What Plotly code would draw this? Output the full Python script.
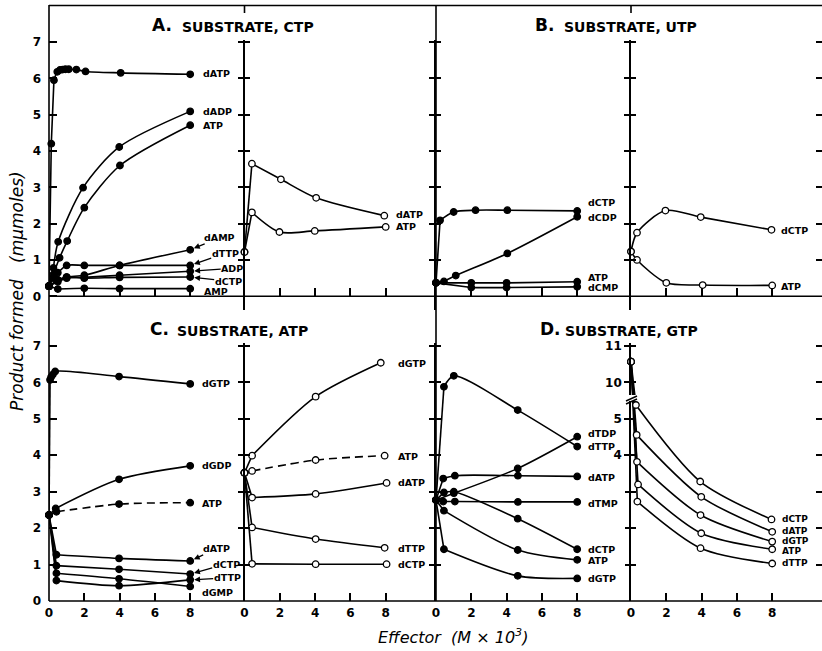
import plotly.graph_objects as go

# ---------------- data ----------------
# Panel A (substrate CTP) - left sub-plot, filled circles
a1_datp_x = [0, 0.13, 0.28, 0.47, 0.62, 0.77, 0.93, 1.12, 1.55, 2.07, 4.06, 8]
a1_datp_y = [0.28, 4.2, 5.95, 6.18, 6.23, 6.24, 6.25, 6.25, 6.24, 6.19, 6.15, 6.11]
a1_dadp_x = [0, 0.25, 0.52, 1.93, 3.98, 8]
a1_dadp_y = [0.28, 0.78, 1.5, 2.99, 4.11, 5.09]
a1_atp_x = [0, 0.25, 0.6, 1.03, 2.0, 4.02, 8]
a1_atp_y = [0.28, 0.6, 1.06, 1.52, 2.44, 3.6, 4.71]
a1_damp_x = [0, 0.5, 1, 2, 4, 8]
a1_damp_y = [0.28, 0.45, 0.53, 0.58, 0.85, 1.28]
a1_dttp_x = [0, 0.25, 0.5, 1, 2, 4, 8]
a1_dttp_y = [0.28, 0.5, 0.65, 0.85, 0.85, 0.85, 0.85]
a1_adp_x = [0, 0.5, 1, 2, 4, 8]
a1_adp_y = [0.28, 0.4, 0.5, 0.52, 0.58, 0.69]
a1_dctp_x = [0, 0.5, 1, 2, 4, 8]
a1_dctp_y = [0.28, 0.45, 0.53, 0.5, 0.52, 0.53]
a1_amp_x = [0, 0.5, 2, 4, 8]
a1_amp_y = [0.28, 0.2, 0.22, 0.21, 0.21]
# Panel A - right sub-plot, open circles
a2_datp_x = [0, 0.42, 2.06, 4.06, 7.92]
a2_datp_y = [1.22, 3.65, 3.22, 2.71, 2.22]
a2_atp_x = [0, 0.42, 1.98, 3.98, 8]
a2_atp_y = [1.22, 2.31, 1.77, 1.80, 1.91]

# Panel B (substrate UTP)
b1_dctp_x = [0, 0.23, 1.0, 2.24, 4.04, 8]
b1_dctp_y = [0.37, 2.09, 2.32, 2.37, 2.37, 2.35]
b1_dcdp_x = [0, 0.45, 1.12, 4.04, 8]
b1_dcdp_y = [0.37, 0.41, 0.57, 1.18, 2.19]
b1_atp_x = [0, 2, 4, 8]
b1_atp_y = [0.37, 0.37, 0.37, 0.40]
b1_dcmp_x = [0, 2, 4, 8]
b1_dcmp_y = [0.37, 0.24, 0.24, 0.26]
b2_dctp_x = [0, 0.34, 1.95, 3.95, 7.96]
b2_dctp_y = [1.23, 1.75, 2.36, 2.18, 1.83]
b2_atp_x = [0, 0.34, 2.0, 4.06, 8]
b2_atp_y = [1.23, 1.0, 0.37, 0.31, 0.30]

# Panel C (substrate ATP)
c1_dgtp_x = [0, 0.06, 0.12, 0.22, 0.35, 3.97, 8]
c1_dgtp_y = [2.36, 6.07, 6.15, 6.22, 6.3, 6.16, 5.96]
c1_dgdp_x = [0, 0.38, 3.97, 8]
c1_dgdp_y = [2.36, 2.54, 3.34, 3.71]
c1_atp_x = [0, 0.42, 3.97, 8]
c1_atp_y = [2.36, 2.45, 2.66, 2.70]
c1_datp_x = [0, 0.42, 3.97, 8]
c1_datp_y = [2.36, 1.27, 1.17, 1.10]
c1_dctp_x = [0, 0.42, 3.97, 8]
c1_dctp_y = [2.36, 0.97, 0.87, 0.74]
c1_dttp_x = [0, 0.42, 3.97, 8]
c1_dttp_y = [2.36, 0.56, 0.42, 0.58]
c1_dgmp_x = [0, 0.42, 3.97, 8]
c1_dgmp_y = [2.36, 0.76, 0.61, 0.40]
c2_dgtp_x = [0, 0.43, 4.03, 7.72]
c2_dgtp_y = [3.52, 3.99, 5.61, 6.54]
c2_atp_x = [0, 0.43, 4.03, 7.94]
c2_atp_y = [3.52, 3.57, 3.87, 3.99]
c2_datp_x = [0, 0.43, 4.03, 8.05]
c2_datp_y = [3.52, 2.84, 2.94, 3.24]
c2_dttp_x = [0, 0.43, 4.03, 7.94]
c2_dttp_y = [3.52, 2.02, 1.70, 1.46]
c2_dctp_x = [0, 0.43, 4.03, 8.05]
c2_dctp_y = [3.52, 1.02, 1.01, 1.01]

# Panel D (substrate GTP)
d1_dttp_x = [0, 0.45, 1.01, 4.63, 8]
d1_dttp_y = [2.77, 5.88, 6.18, 5.24, 4.24]
d1_dtdp_x = [0, 1.01, 4.63, 8]
d1_dtdp_y = [2.77, 2.96, 3.64, 4.51]
d1_datp_x = [0, 0.41, 1.07, 4.64, 8]
d1_datp_y = [2.77, 3.36, 3.44, 3.44, 3.42]
d1_dtmp_x = [0, 0.41, 1.07, 4.64, 8]
d1_dtmp_y = [2.77, 2.73, 2.73, 2.72, 2.72]
d1_dctp_x = [0, 0.45, 1.01, 4.63, 8]
d1_dctp_y = [2.77, 2.98, 3.0, 2.26, 1.42]
d1_atp_x = [0, 0.45, 4.63, 8]
d1_atp_y = [2.77, 2.48, 1.40, 1.13]
d1_dgtp_x = [0, 0.45, 4.63, 8]
d1_dgtp_y = [2.77, 1.42, 0.69, 0.62]
# right sub-plot of D uses a broken axis (values 10, 11 above the break)
d2_dctp_x = [0, 0.28, 3.92, 7.96]
d2_dctp_y = [10.57, 5.38, 3.28, 2.24]
d2_datp_x = [0, 0.32, 3.98, 8]
d2_datp_y = [10.57, 4.56, 2.86, 1.90]
d2_dgtp_x = [0, 0.34, 3.94, 8]
d2_dgtp_y = [10.57, 3.82, 2.36, 1.63]
d2_atp_x = [0, 0.40, 3.98, 8]
d2_atp_y = [10.57, 3.20, 1.86, 1.42]
d2_dttp_x = [0, 0.36, 3.94, 8]
d2_dttp_y = [10.57, 2.73, 1.45, 1.03]

# tick labels
y_tick_vals = [0, 1, 2, 3, 4, 5, 6, 7]
y_tick_text = ["0", "1", "2", "3", "4", "5", "6", "7"]
x_tick_vals = [0, 2, 4, 6, 8]
x_tick_text = ["0", "2", "4", "6", "8"]
minor_tick_vals = [1, 2, 3, 4, 5, 6, 7]
broken_tick_vals = [4, 5, 6, 7]
broken_tick_text = ["4", "5", "10", "11"]


def broken(vals):
    # values above the axis break (10, 11) are drawn 4 units lower
    return [v - 4 if v > 5.5 else v for v in vals]


# ---------------- geometry / style ----------------
W, H = 822, 651
def fx(p): return p / W
def fy(p): return 1 - p / H

FONT = "DejaVu Sans"
INK = "black"
LW = 1.6
TOP = dict(zero=296.3, ppu=36.33, top=40, bot=310)
BOT = dict(zero=601, ppu=36.43, top=343, bot=601)
COLS = [(49, 230), (244.5, 432), (436, 625), (631, 822)]
PPU_X = 17.65

def xa(i): return "x" if i == 1 else f"x{i}"
def ya(i): return "y" if i == 1 else f"y{i}"

# (subplot, x, y, hollow, dashed, number of straight leading segments)
series = [
    (1, a1_datp_x, a1_datp_y, False, False, 2),
    (1, a1_dadp_x, a1_dadp_y, False, False, 1),
    (1, a1_atp_x, a1_atp_y, False, False, 1),
    (1, a1_damp_x, a1_damp_y, False, False, 1),
    (1, a1_dttp_x, a1_dttp_y, False, False, 1),
    (1, a1_adp_x, a1_adp_y, False, False, 1),
    (1, a1_dctp_x, a1_dctp_y, False, False, 1),
    (1, a1_amp_x, a1_amp_y, False, False, 1),
    (2, a2_datp_x, a2_datp_y, True, False, 1),
    (2, a2_atp_x, a2_atp_y, True, False, 1),
    (3, b1_dctp_x, b1_dctp_y, False, False, 1),
    (3, b1_dcdp_x, b1_dcdp_y, False, False, 1),
    (3, b1_atp_x, b1_atp_y, False, False, 1),
    (3, b1_dcmp_x, b1_dcmp_y, False, False, 1),
    (4, b2_dctp_x, b2_dctp_y, True, False, 0),
    (4, b2_atp_x, b2_atp_y, True, False, 0),
    (5, c1_dgtp_x, c1_dgtp_y, False, False, 1),
    (5, c1_dgdp_x, c1_dgdp_y, False, False, 1),
    (5, c1_atp_x, c1_atp_y, False, True, 1),
    (5, c1_datp_x, c1_datp_y, False, False, 1),
    (5, c1_dctp_x, c1_dctp_y, False, False, 1),
    (5, c1_dttp_x, c1_dttp_y, False, False, 1),
    (5, c1_dgmp_x, c1_dgmp_y, False, False, 1),
    (6, c2_dgtp_x, c2_dgtp_y, True, False, 1),
    (6, c2_atp_x, c2_atp_y, True, True, 1),
    (6, c2_datp_x, c2_datp_y, True, False, 1),
    (6, c2_dttp_x, c2_dttp_y, True, False, 1),
    (6, c2_dctp_x, c2_dctp_y, True, False, 1),
    (7, d1_dttp_x, d1_dttp_y, False, False, 1),
    (7, d1_dtdp_x, d1_dtdp_y, False, False, 1),
    (7, d1_datp_x, d1_datp_y, False, False, 1),
    (7, d1_dtmp_x, d1_dtmp_y, False, False, 1),
    (7, d1_dctp_x, d1_dctp_y, False, False, 1),
    (7, d1_atp_x, d1_atp_y, False, False, 1),
    (7, d1_dgtp_x, d1_dgtp_y, False, False, 1),
    (8, d2_dctp_x, broken(d2_dctp_y), True, False, 1),
    (8, d2_datp_x, broken(d2_datp_y), True, False, 1),
    (8, d2_dgtp_x, broken(d2_dgtp_y), True, False, 1),
    (8, d2_atp_x, broken(d2_atp_y), True, False, 1),
    (8, d2_dttp_x, broken(d2_dttp_y), True, False, 1),
]

fig = go.Figure()
common = dict(showlegend=False, hoverinfo="skip", cliponaxis=False)
markers = []
for sp, x, y, hollow, dashed, nlin in series:
    dash = "8px,5px" if dashed else "solid"
    if nlin > 0:
        fig.add_trace(go.Scatter(x=x[:nlin + 1], y=y[:nlin + 1], mode="lines",
                                 line=dict(color=INK, width=LW, dash=dash),
                                 xaxis=xa(sp), yaxis=ya(sp), **common))
    fig.add_trace(go.Scatter(x=x[nlin:], y=y[nlin:], mode="lines",
                             line=dict(color=INK, width=LW, dash=dash, shape="spline", smoothing=0.8),
                             xaxis=xa(sp), yaxis=ya(sp), **common))
    markers.append(go.Scatter(x=x, y=y, mode="markers",
                              marker=dict(size=6.5, symbol="circle",
                                          color="white" if hollow else INK,
                                          line=dict(color=INK, width=1.3)),
                              xaxis=xa(sp), yaxis=ya(sp), **common))
for m in markers:
    fig.add_trace(m)

# ---------------- axes ----------------
layout = {}
tickfont = dict(family=FONT, size=12, color=INK, weight="bold")
yranges = {}
for row, g in enumerate([TOP, BOT]):
    yr = [-(g["bot"] - g["zero"]) / g["ppu"], (g["zero"] - g["top"]) / g["ppu"]]
    ydom = [fy(g["bot"]), fy(g["top"])]
    for col, (x0, x1) in enumerate(COLS):
        i = row * 4 + col + 1
        yranges[i] = yr
        xaxis = dict(domain=[fx(x0), fx(x1)], range=[0, (x1 - x0) / PPU_X],
                     showgrid=False, zeroline=False, showline=False,
                     ticks="inside", ticklen=8, tickwidth=1.5, tickcolor=INK,
                     fixedrange=True, tickfont=tickfont, automargin=False)
        if row == 0:
            xaxis.update(anchor="free", position=fy(TOP["zero"]), tickvals=[2, 4, 6, 8],
                         showticklabels=False)
        else:
            xaxis.update(anchor=ya(i), tickvals=x_tick_vals, ticktext=x_tick_text,
                         showticklabels=True, ticklabelstandoff=3)
        yaxis = dict(domain=ydom, range=yr, anchor=xa(i), showgrid=False, zeroline=False,
                     fixedrange=True, tickfont=tickfont, automargin=False,
                     tickcolor=INK, tickwidth=1.5)
        if col == 0:
            yaxis.update(showline=False, ticks="inside", ticklen=8, tickvals=y_tick_vals,
                         ticktext=y_tick_text, showticklabels=True, ticklabelstandoff=7)
        else:
            yaxis.update(showline=True, linecolor=INK, linewidth=LW, ticks="outside",
                         ticklen=5, tickvals=minor_tick_vals, showticklabels=False)
            if i == 8:
                yaxis.update(tickvals=broken_tick_vals, ticktext=broken_tick_text,
                             showticklabels=True)
        layout["xaxis" if i == 1 else f"xaxis{i}"] = xaxis
        layout["yaxis" if i == 1 else f"yaxis{i}"] = yaxis

# overlay axes giving crossing ticks and the ticks on the right frame edge
k = 9
for i, side, tk in [(2, "left", "inside"), (3, "left", "inside"), (4, "left", "inside"),
                    (6, "left", "inside"), (7, "left", "inside"), (8, "left", "inside"),
                    (8, "left", "outside"), (4, "right", "inside"), (8, "right", "inside")]:
    layout[f"yaxis{k}"] = dict(overlaying=ya(i), anchor=xa(i), side=side, range=yranges[i],
                               ticks=tk, ticklen=5 if side == "left" else 6, tickwidth=1.5,
                               tickcolor=INK, tickvals=minor_tick_vals, showticklabels=False,
                               showline=False, showgrid=False, zeroline=False, fixedrange=True)
    fig.add_trace(go.Scatter(x=[], y=[], xaxis=xa(i), yaxis=f"y{k}", showlegend=False))
    k += 1

# ---------------- frame ----------------
shapes = []
def pline(x0, y0, x1, y1, w=LW):
    shapes.append(dict(type="line", xref="paper", yref="paper", x0=fx(x0), y0=fy(y0),
                       x1=fx(x1), y1=fy(y1), line=dict(color=INK, width=w)))
pline(49, 5.5, 822, 5.5)
pline(49, 5, 49, 601)
pline(49, 601, 822, 601)
pline(49, 296.3, 822, 296.3)
pline(436, 5, 436, 601)
pline(244.5, 5.5, 244.5, 13)
pline(631, 5.5, 631, 13)
# axis break marks (D, right sub-plot)
shapes.append(dict(type="rect", xref="paper", yref="paper", x0=fx(627), x1=fx(637),
                   y0=fy(401), y1=fy(395), fillcolor="white", line=dict(width=0)))
pline(626, 401, 637, 396, 1.4)
pline(626, 404, 637, 399, 1.4)

# ---------------- text ----------------
ann = []
lab_font = dict(family=FONT, size=9.5, color=INK, weight="bold")
small_font = dict(family=FONT, size=9, color=INK, weight="bold")

# (subplot, x, y, text) for plain series labels, in data units
labels = [
    (1, 8.67, 6.12, "dATP"), (1, 8.67, 5.10, "dADP"), (1, 8.67, 4.69, "ATP"), (1, 8.72, 0.13, "AMP"),
    (2, 8.53, 2.24, "dATP"), (2, 8.53, 1.91, "ATP"),
    (3, 8.56, 2.57, "dCTP"), (3, 8.56, 2.16, "dCDP"), (3, 8.56, 0.53, "ATP"), (3, 8.56, 0.23, "dCMP"),
    (4, 8.44, 1.80, "dCTP"), (4, 8.44, 0.28, "ATP"),
    (5, 8.61, 5.96, "dGTP"), (5, 8.61, 3.71, "dGDP"), (5, 8.61, 2.69, "ATP"), (5, 8.61, 0.22, "dGMP"),
    (6, 8.64, 6.51, "dGTP"), (6, 8.64, 3.98, "ATP"), (6, 8.64, 3.24, "dATP"), (6, 8.64, 1.45, "dTTP"),
    (6, 8.64, 0.99, "dCTP"),
    (7, 8.56, 4.61, "dTDP"), (7, 8.56, 4.23, "dTTP"), (7, 8.56, 3.38, "dATP"), (7, 8.56, 2.69, "dTMP"),
    (7, 8.56, 1.41, "dCTP"), (7, 8.56, 1.12, "ATP"), (7, 8.56, 0.63, "dGTP"),
    (8, 8.5, 2.26, "dCTP"), (8, 8.5, 1.92, "dATP"), (8, 8.5, 1.65, "dGTP"), (8, 8.5, 1.37, "ATP"),
    (8, 8.5, 1.03, "dTTP"),
]
for sp, x, y, t in labels:
    ann.append(dict(xref=xa(sp), yref=ya(sp), x=x, y=y, text=t, showarrow=False,
                    xanchor="left", yanchor="middle", borderpad=0,
                    font=small_font if sp == 8 else lab_font))

# labels with arrows: (subplot, x, y (arrow head at the end point), text, ax, ay)
arrow_labels = [
    (1, a1_damp_x[-1], a1_damp_y[-1], "dAMP", 29, -12),
    (1, a1_dttp_x[-1], a1_dttp_y[-1], "dTTP", 35, -12),
    (1, a1_adp_x[-1], a1_adp_y[-1], "ADP", 42, -3),
    (1, a1_dctp_x[-1], a1_dctp_y[-1], "dCTP", 38, 4),
    (5, c1_datp_x[-1], c1_datp_y[-1], "dATP", 26, -12),
    (5, c1_dctp_x[-1], c1_dctp_y[-1], "dCTP", 36, -10),
    (5, c1_dttp_x[-1], c1_dttp_y[-1], "dTTP", 37, -2),
]
for sp, x, y, t, dx, dy in arrow_labels:
    ann.append(dict(xref=xa(sp), yref=ya(sp), x=x, y=y, text=t, showarrow=True,
                    ax=dx, ay=dy, arrowhead=2, arrowsize=0.9, arrowwidth=1.3,
                    arrowcolor=INK, standoff=4, font=lab_font, borderpad=0))

# panel titles
for letter, lx, sx, cy, sub in [("A.", 150, 180, 25, "SUBSTRATE, CTP"),
                                ("B.", 533, 562, 25, "SUBSTRATE, UTP"),
                                ("C.", 148, 175, 329, "SUBSTRATE, ATP"),
                                ("D.", 538, 563, 329, "SUBSTRATE, GTP")]:
    ann.append(dict(xref="paper", yref="paper", x=fx(lx), y=fy(cy), text=letter,
                    showarrow=False, xanchor="left", yanchor="middle",
                    font=dict(family=FONT, size=17, color=INK, weight="bold")))
    ann.append(dict(xref="paper", yref="paper", x=fx(sx), y=fy(cy + 2), text=sub,
                    showarrow=False, xanchor="left", yanchor="middle",
                    font=dict(family=FONT, size=14, color=INK, weight="bold")))

# axis titles
ann.append(dict(xref="paper", yref="paper", x=fx(17), y=fy(291), textangle=-90,
                text="Product formed\u00a0\u00a0\u00a0(m\u03bcmoles)", showarrow=False,
                xanchor="center", yanchor="middle",
                font=dict(family=FONT, size=17, color=INK, style="italic")))
ann.append(dict(xref="paper", yref="paper", x=fx(453), y=fy(636),
                text="Effector\u00a0\u00a0(M \u00d7 10<sup>3</sup>)", showarrow=False,
                xanchor="center", yanchor="middle",
                font=dict(family=FONT, size=16, color=INK, style="italic")))

fig.update_layout(template="none", width=W, height=H,
                  margin=dict(l=0, r=0, t=0, b=0, pad=0),
                  paper_bgcolor="white", plot_bgcolor="rgba(0,0,0,0)",
                  showlegend=False, shapes=shapes, annotations=ann, **layout)
fig.write_html("out.html", config={"displayModeBar": False},
               post_script="document.body.style.margin='0';document.body.style.overflow='hidden';")
